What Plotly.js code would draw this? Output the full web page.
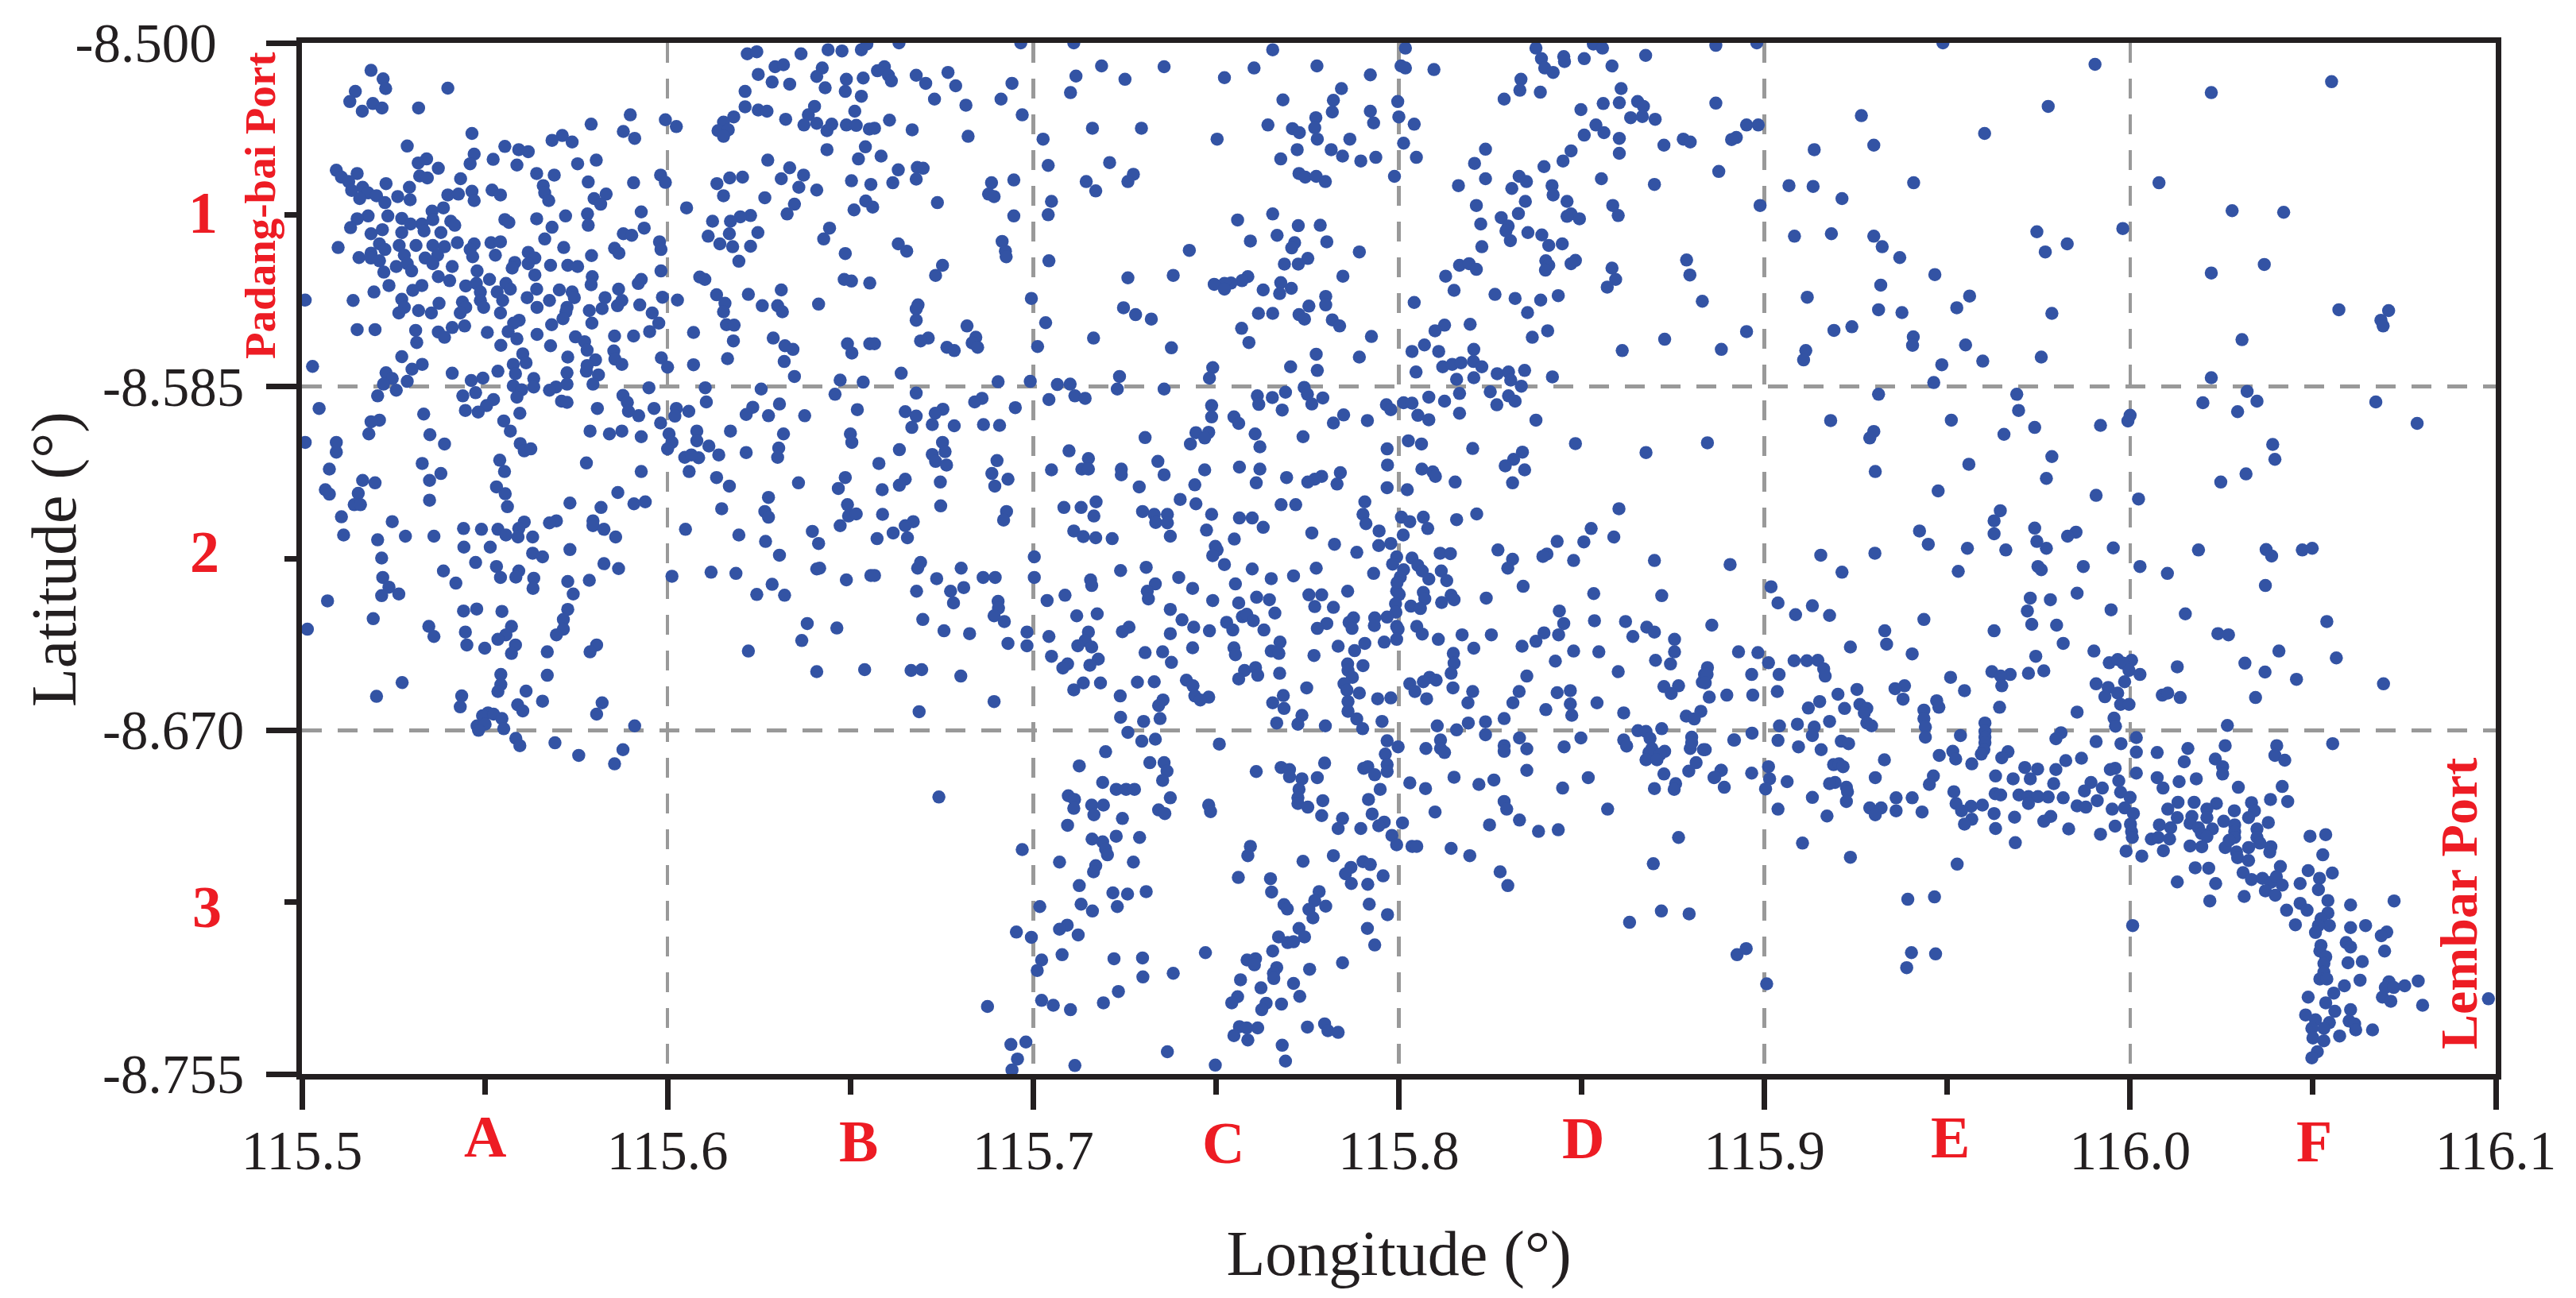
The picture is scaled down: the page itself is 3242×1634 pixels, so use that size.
<!DOCTYPE html>
<html><head><meta charset="utf-8">
<script src="https://cdn.plot.ly/plotly-3.0.1.min.js"></script>
<style>html,body{margin:0;padding:0;background:#fff}</style></head>
<body><div id="chart" style="width:3242px;height:1634px"></div>
<script>
// Ship positions. Each pair is [east of 115.5, south of -8.5] in units of 0.0001 degree.
const westNorth=[[189,68],[222,89],[229,113],[146,120],[399,112],[131,145],[165,169],[194,150],[219,161],[319,161],[898,178],[791,201],[879,219],[910,236],[994,190],[1024,207],[465,224],[712,229],[684,241],[739,245],[288,255],[555,256],[593,264],[619,269],[471,275],[523,288],[460,299],[341,287],[318,297],[373,310],[588,302],[754,299],[805,290],[94,315],[108,332],[151,323],[128,343],[322,329],[343,334],[434,336],[642,323],[690,327],[981,327],[994,345],[907,346],[783,344],[230,348],[294,357],[660,353],[166,357],[136,365],[181,371],[204,378],[158,385],[227,395],[262,380],[296,388],[399,376],[428,374],[465,367],[471,390],[520,364],[543,376],[664,371],[675,390],[832,374],[799,385],[817,399],[1052,408],[387,408],[356,416],[928,418],[781,423],[721,428],[642,435],[555,437],[566,444],[235,428],[181,428],[151,435],[273,434],[328,448],[358,437],[407,441],[297,448],[133,457],[418,451],[220,462],[189,472],[273,469],[334,465],[380,469],[783,451],[684,456],[936,458],[879,472],[902,476],[664,485],[978,492],[212,497],[266,501],[312,501],[358,501],[425,494],[471,497],[517,494],[543,492],[99,506],[716,506],[855,508],[982,511],[189,520],[227,511],[390,504],[460,511],[619,518],[867,520],[156,531],[280,525],[371,525],[467,529],[529,525],[792,526],[189,532],[212,539],[337,532],[637,532],[258,553],[288,546],[358,546],[411,553],[582,543],[619,546],[575,557],[680,550],[727,550],[754,553],[224,567],[300,564],[479,564],[982,564],[1088,579],[1102,585],[373,578],[404,588],[513,585],[637,574],[794,578],[928,585],[920,595],[791,598],[238,600],[328,600],[448,601],[477,595],[558,595],[642,609],[570,609],[704,611],[866,609],[197,616],[303,612],[488,616],[534,616],[739,616],[1134,623],[140,637],[9,636],[273,634],[439,641],[488,637],[549,637],[616,630],[677,637],[745,630],[829,630],[875,637],[986,629],[1027,636],[1157,644],[280,654],[375,644],[448,654],[497,654],[643,654],[725,654],[786,662],[821,657],[863,650],[924,648],[319,662],[354,668],[265,668],[433,668],[543,668],[722,665],[1153,665],[958,668],[714,682],[793,693],[976,693],[594,686],[579,693],[683,697],[1161,697],[1182,698],[151,709],[200,709],[311,711],[411,704],[445,700],[373,715],[507,716],[564,714],[951,714],[1071,716],[643,721],[390,728],[588,732],[748,727],[855,725],[907,725],[1289,730],[1180,737],[314,741],[773,739],[544,748],[680,749],[1321,749],[1343,758],[780,760],[853,762],[1492,744],[1504,767],[1553,744],[604,769],[273,776],[727,777],[983,779],[856,782],[1164,781],[803,784],[1319,788],[875,795],[329,795],[29,800],[578,795],[613,791],[780,798],[1071,796],[1000,802],[301,807],[230,816],[411,817],[536,812],[725,816],[584,818],[811,821],[1347,825],[778,812],[247,830],[288,837],[495,829],[463,835],[634,830],[1472,834],[1535,839],[223,844],[578,848],[725,844],[796,844],[634,851],[695,851],[677,859],[949,853],[1103,853],[1256,856],[258,859],[601,858],[475,865],[207,873],[440,873],[588,876],[878,872],[1458,869],[524,882],[710,886],[725,889],[890,889],[1106,888],[1306,893],[47,904],[505,897],[447,909],[482,913],[596,916],[808,904],[893,911],[963,904],[1024,904],[1058,911],[1233,901],[1519,907],[333,918],[921,922],[1215,919],[1276,922],[1375,922],[1020,923],[212,933],[189,937],[552,935],[981,940]];
const westNorthEast=[[1218,27],[1244,22],[1365,27],[1439,17],[1477,20],[1530,17],[1545,3],[1294,59],[1317,54],[1248,78],[1286,97],[1334,102],[1423,62],[1408,83],[1431,111],[1489,90],[1486,120],[1535,87],[1530,132],[1212,120],[1212,158],[1248,166],[1272,169],[1323,189],[1402,157],[1512,169],[1385,178],[1181,183],[1153,196],[1138,217],[1166,215],[1153,231],[1373,203],[1408,199],[1436,217],[1449,201],[1489,203],[1516,204],[1552,213],[1436,264],[1541,257],[1522,287],[1274,290],[1334,309],[1372,327],[1311,336],[1359,357],[1408,364],[1503,341],[1556,350],[1170,334],[1205,332],[1135,348],[1153,378],[1266,383],[1347,399],[1327,423],[1542,391],[1561,406],[1510,413],[1227,427],[1199,430],[1123,441],[1172,441],[1169,472],[1247,469],[1111,478],[1443,458],[1427,485],[1143,497],[1178,504],[1227,503],[1486,521],[1195,540],[1483,585],[1503,589],[1553,594],[1311,611],[1221,622],[1413,646],[1259,650],[1301,650],[1314,665]];
const westMiddle=[[183,967],[350,969],[570,960],[788,960],[841,967],[875,960],[928,974],[1172,960],[1317,967],[1500,967],[1504,988],[1004,967],[1080,960],[9,988],[94,988],[94,1012],[390,992],[597,991],[608,1009],[626,1004],[1012,988],[1000,1004],[1080,984],[1113,997],[1085,1026],[1047,1025],[1065,1019],[1140,1019],[1215,1013],[1304,1002],[1301,1025],[541,1032],[778,1039],[329,1040],[554,1060],[928,1060],[1059,1060],[75,1054],[380,1065],[1134,1075],[1486,1075],[166,1082],[200,1088],[349,1082],[1358,1088],[532,1098],[1169,1096],[1467,1102],[64,1105],[75,1116],[154,1114],[556,1115],[864,1112],[1276,1124],[349,1131],[143,1142],[160,1142],[733,1138],[939,1135],[908,1140],[562,1147],[818,1149],[1148,1152],[1492,1142],[1266,1159],[1276,1173],[1495,1170],[1516,1165],[108,1172],[247,1184],[796,1182],[796,1194],[608,1185],[593,1201],[696,1182],[677,1187],[442,1201],[491,1203],[536,1203],[558,1217],[826,1203],[1049,1203],[1472,1194],[1396,1208],[114,1217],[283,1220],[361,1220],[591,1222],[631,1222],[858,1222],[1195,1217],[207,1229],[1268,1233],[1413,1238],[443,1247],[515,1247],[733,1253],[631,1262],[658,1271],[218,1274],[1306,1267],[475,1285],[826,1288],[532,1295],[866,1300],[593,1306],[387,1306],[1408,1301],[1416,1299],[1119,1309],[1187,1312],[543,1322],[634,1324],[585,1321],[1012,1319],[221,1322],[1489,1328],[1556,1317],[727,1332],[786,1329],[421,1336],[1286,1339],[238,1346],[632,1349],[265,1363],[742,1363],[218,1367],[1244,1364],[1320,1366],[70,1380],[727,1401],[442,1405],[478,1400],[547,1406],[195,1424],[715,1426],[1382,1436],[573,1443],[347,1443],[1463,1447],[715,1450],[15,1450],[447,1457],[361,1468],[558,1464],[696,1464],[536,1475],[1367,1478],[584,1489],[451,1489],[500,1497],[806,1489],[788,1506],[1221,1504],[671,1506],[573,1510],[1408,1555],[1539,1550],[671,1564],[544,1562],[274,1582],[544,1587],[536,1604],[613,1603],[204,1616],[437,1615],[658,1628],[821,1632],[433,1642],[590,1637],[604,1652],[806,1660],[509,1657],[494,1664],[524,1660],[547,1671],[479,1689],[501,1685],[910,1689],[552,1696],[483,1700],[585,1720],[596,1738],[692,1731],[878,1748],[757,1762],[855,1783]];
const centerNorth=[[1633,0],[1966,0],[2111,0],[2655,17],[3018,13],[3375,13],[3532,3],[3557,13],[3867,6],[1593,59],[1574,69],[1604,80],[1612,94],[1680,80],[1706,100],[1767,73],[1788,106],[1942,100],[1730,139],[1816,154],[1912,139],[1970,178],[2117,82],[2187,57],[2251,90],[2358,59],[2102,123],[2523,86],[2604,62],[2776,57],[2922,79],[3006,57],[3018,62],[3096,66],[2843,113],[2683,141],[2821,142],[2997,145],[3390,39],[3399,62],[3422,73],[3451,34],[3453,46],[3507,39],[3583,57],[3675,31],[3334,90],[3331,117],[3387,122],[3288,139],[3608,113],[3559,150],[3603,148],[3653,145],[3669,157],[3498,165],[3867,149],[2818,171],[2922,169],[2773,185],[3000,183],[3634,185],[3666,182],[3701,189],[1607,191],[2642,203],[3042,201],[2931,198],[3539,203],[3951,203],[1669,215],[2162,211],[2296,211],[2770,210],[2709,212],[2728,222],[3561,222],[3507,228],[1566,211],[1822,231],[2027,238],[2503,238],[2777,238],[2866,238],[3603,236],[3013,248],[3923,234],[3910,239],[3725,253],[3778,238],[3797,245],[2722,264],[2815,264],[3237,263],[3471,267],[2846,280],[2937,283],[3048,283],[3603,273],[2896,292],[2677,287],[3449,292],[1584,280],[2041,303],[2209,296],[1631,314],[1683,308],[1699,310],[3207,298],[3397,306],[2727,323],[2744,332],[2774,330],[2799,343],[2988,330],[3875,318],[1680,337],[1616,346],[1947,339],[1886,346],[2274,325],[2259,343],[2145,343],[3329,330],[3349,343],[3237,336],[3554,336],[3163,353],[3309,360],[3419,353],[3699,350],[2171,366],[1878,374],[1893,380],[3422,376],[3460,392],[2050,392],[1738,395],[3346,392],[3212,402],[3585,402],[2655,423],[1947,428],[2041,425],[2559,438],[3327,422],[3280,432],[3471,423],[3460,429],[3494,435],[3600,427],[2725,452],[2785,451],[3224,448],[3299,453],[3293,465],[3353,469],[2667,476],[3391,475],[1631,497],[1915,491],[2594,490],[2803,492],[2715,494],[3305,489],[3410,501],[3447,497],[3227,504],[1654,515],[1924,515],[2427,513],[2892,517],[2707,507],[1926,529],[2043,539],[2751,533],[1752,550],[2687,547],[2725,547],[3166,550],[3192,546],[3212,560],[3402,539],[3410,550],[3401,562],[3483,538],[3471,546],[3583,557],[3787,537],[3796,574],[1733,575],[2259,581],[2383,575],[2847,577],[3128,577],[2587,578],[2571,588],[2541,594],[2523,595],[2495,597],[2523,609],[2677,593],[2706,607],[2629,611],[2674,620],[3593,585],[3570,604],[3151,612],[1995,632],[2800,627],[2800,648],[3042,642],[3263,622],[3318,632],[3388,636],[3436,625],[3830,639],[1685,648],[1680,658],[2247,655],[2754,651],[2280,672],[2323,683],[2616,669],[2655,669],[2727,672],[3352,667],[1680,686],[2818,685],[2742,683],[2034,692],[1819,700],[3125,698],[3195,696],[2838,700],[2570,706],[3099,712],[3407,712],[3951,714],[1713,730],[1843,728],[2165,730],[2925,726],[3365,728],[3727,733],[1692,737],[1833,742],[2590,741],[3070,747],[1566,744],[1764,753],[1784,761],[1848,753],[2012,751],[2378,754],[3205,758],[3611,761],[3882,758],[3036,763],[3109,763],[2774,770],[2892,777],[2491,803],[2704,801],[3120,801],[3146,795],[3170,791],[3204,788],[3227,801],[1639,817],[2777,810],[3047,814],[3269,818],[3300,814],[3344,810],[2236,825],[2482,829],[3158,832],[3205,828],[3420,826],[3306,834],[1904,838],[1992,837],[2066,845],[2101,844],[2741,852],[3335,849],[2230,856],[2358,856],[1680,866],[2690,864],[2750,869],[3166,867],[3250,863],[2114,873],[2613,873],[2654,877],[2792,878],[3082,876],[3300,873],[1860,879],[1840,888],[2043,882],[2142,879],[3125,886],[3318,886],[2617,894],[2762,893],[2488,897],[3013,890],[3036,891],[2966,895],[3268,895],[1753,906],[1951,902],[1650,912],[2978,907],[2681,908],[1732,916],[2488,925],[2549,925],[2849,920],[3052,921],[3166,916],[1680,923],[2914,934],[3082,932],[3375,933],[2562,941],[1724,944],[1784,947],[1864,944],[1908,946],[1668,951],[2821,940]];
const centerMiddleA=[[2306,976],[2445,964],[2480,963],[2469,977],[2430,992],[2607,967],[2738,974],[1752,988],[1634,1006],[1759,1011],[1724,1018],[1733,1035],[1763,1044],[1578,1040],[2098,1009],[2151,1028],[2620,999],[3026,984],[3062,992],[2968,1004],[3202,1003],[3483,991],[3844,989],[3676,1013],[3338,1012],[3314,1030],[3291,1046],[3344,1056],[1901,1033],[2341,1035],[2969,1044],[2133,1054],[2151,1054],[2241,1054],[2241,1068],[2050,1056],[1887,1065],[2564,1049],[2620,1054],[2469,1056],[2358,1068],[3063,1054],[3093,1061],[3100,1072],[2840,1063],[1650,1079],[1931,1079],[2693,1075],[2789,1072],[2770,1079],[2751,1086],[2610,1088],[1746,1086],[2442,1093],[2831,1091],[3154,1086],[3311,1088],[1634,1094],[1895,1096],[2290,1098],[2968,1100],[3023,1105],[1587,1105],[2402,1129],[2907,1135],[2445,1140],[2172,1135],[1747,1145],[2678,1142],[2718,1142],[2084,1149],[2131,1149],[3602,1152],[1927,1159],[2299,1159],[2331,1166],[2488,1166],[2367,1166],[3213,1165],[2902,1166],[1588,1166],[2166,1170],[3007,1173],[3067,1173],[2564,1175],[2599,1175],[1919,1180],[3030,1184],[3158,1179],[2335,1186],[2367,1187],[1672,1184],[2910,1189],[1650,1194],[3079,1201],[2629,1198],[3526,1201],[2111,1207],[2474,1205],[2946,1207],[1617,1212],[2762,1212],[3588,1222],[2137,1221],[2171,1224],[2216,1226],[2375,1220],[3012,1217],[1656,1224],[1573,1226],[2550,1227],[3506,1234],[3433,1233],[2978,1238],[2824,1240],[2945,1243],[2498,1245],[3271,1254],[2885,1260],[3113,1262],[3141,1263],[2503,1254],[2491,1268],[3405,1264],[3394,1270],[2003,1271],[2994,1271],[3036,1274],[3311,1277],[3478,1280],[3699,1280],[2523,1290],[2983,1289],[1692,1285],[3906,1290],[3298,1299],[1684,1299],[2309,1297],[3052,1292],[2774,1299],[2599,1301],[3013,1303],[1803,1299],[2239,1305],[3064,1306],[3116,1306],[2931,1312],[1566,1317],[2712,1318],[1863,1322],[1896,1322],[2003,1322],[2651,1325],[1736,1325],[2398,1322],[2157,1328],[3004,1321],[3082,1326],[3131,1330],[2334,1338],[2553,1338],[2160,1342],[3340,1344],[2995,1335],[1810,1347],[2436,1349],[2860,1356],[1681,1356],[1774,1356],[2312,1356],[2994,1356],[3067,1359],[3533,1362],[3719,1367],[2754,1365],[2789,1365],[3143,1366],[2087,1366],[2611,1371],[3239,1373],[2646,1377],[2315,1375],[2038,1379],[2491,1379],[3001,1364],[3071,1375],[3151,1377],[1904,1381],[2562,1385],[3117,1384],[2991,1387],[1782,1385],[2770,1394],[2821,1396],[3033,1393],[3059,1399],[1905,1398],[2375,1401],[3439,1405],[2661,1410],[2175,1412],[2992,1408],[2119,1417],[1893,1417],[2572,1419],[2584,1413],[2876,1422],[2934,1422],[2968,1420],[2407,1427],[2602,1429],[1921,1431],[1698,1426],[3535,1429],[3620,1431],[2864,1433],[2529,1433],[2439,1445],[2803,1436],[3451,1436],[2933,1441],[2994,1443],[3856,1440],[3678,1445],[3049,1443],[2262,1445],[2777,1448],[2872,1448],[2482,1454],[2546,1452],[2631,1452],[1756,1454],[2998,1450]];
const centerMiddleB=[[1983,1457],[2151,1457],[2244,1456],[1826,1461],[2375,1461],[3397,1459],[3699,1457],[3064,1462],[3253,1464],[3173,1464],[3437,1464],[3640,1468],[2043,1468],[3754,1475],[3108,1475],[2994,1475],[2907,1485],[2960,1482],[2675,1482],[3375,1480],[1931,1485],[1983,1491],[2142,1478],[2122,1491],[2160,1494],[2436,1496],[2549,1496],[2834,1492],[3337,1492],[3205,1497],[3149,1510],[3478,1504],[3547,1506],[3754,1506],[3929,1506],[2306,1508],[2354,1506],[2651,1504],[2672,1510],[2879,1503],[2768,1515],[2553,1513],[2050,1517],[2178,1524],[3428,1529],[2378,1532],[3702,1527],[3743,1536],[3151,1534],[2860,1536],[2902,1540],[2094,1536],[2155,1539],[2081,1546],[3844,1545],[2578,1552],[2608,1545],[2861,1552],[1666,1552],[1695,1550],[3600,1555],[2614,1564],[2674,1559],[1802,1566],[3143,1559],[3836,1562],[3350,1566],[2873,1569],[3084,1569],[3102,1576],[2562,1573],[2419,1576],[2285,1581],[2331,1580],[2137,1583],[2184,1583],[2437,1590],[2850,1585],[3067,1580],[3030,1585],[3830,1581],[2748,1595],[3725,1592],[3765,1590],[2111,1600],[3148,1595],[3044,1604],[3202,1604],[2858,1601],[2892,1608],[3329,1604],[3433,1607],[3469,1602],[3745,1609],[2238,1615],[2684,1614],[2442,1615],[2480,1618],[2457,1625],[2355,1625],[3897,1613],[3076,1622],[2942,1622],[2978,1620],[3849,1618],[2861,1629],[3542,1632],[2655,1632],[3189,1632],[3312,1632],[2343,1639],[3469,1635],[1688,1654],[1893,1629],[2686,1646],[2861,1653],[3402,1649],[2735,1663],[3615,1657],[3473,1663],[3826,1653],[2239,1668],[2347,1671],[2885,1672],[3786,1665],[3808,1672],[2954,1678],[3288,1671],[2302,1678],[2666,1682],[3105,1689],[2724,1685],[3190,1682],[3237,1679],[2799,1689],[2901,1696],[3158,1699],[2259,1705],[3719,1696],[3654,1701],[3676,1703],[3237,1711],[2297,1727],[2334,1722],[2509,1734],[2968,1726],[3114,1724],[3498,1719],[3330,1719],[3615,1724],[3687,1720],[3801,1717],[3916,1724],[2998,1741],[3452,1741],[3623,1739],[3288,1738],[3074,1745],[3350,1746],[3114,1745],[3797,1745],[3833,1748],[2198,1753],[3288,1752],[3125,1755],[3727,1752],[3692,1745],[3684,1755],[3715,1759],[3676,1773],[3706,1773],[3801,1731],[2963,1759],[3813,1780],[2126,1788],[2319,1780],[2358,1780],[2797,1781],[2968,1785],[2678,1792],[2904,1794],[2915,1790],[2366,1801],[2610,1802],[2701,1797],[3350,1799],[2934,1810],[3882,1799],[3793,1801],[2968,1802],[3725,1808],[2777,1817],[2701,1815],[2735,1820],[3151,1816],[3518,1817],[3260,1823],[2354,1824],[3862,1817],[2190,1829],[3030,1830],[3219,1834],[3757,1832],[3448,1843],[2227,1846],[2254,1846],[2277,1846],[2727,1846],[3073,1844],[2949,1846],[3699,1844],[3753,1846],[3890,1841],[1742,1865],[2096,1862],[2724,1867],[2375,1867],[2113,1871],[2792,1874],[2917,1871],[3288,1876],[2160,1885],[2724,1881],[2192,1885],[2480,1885],[2751,1890],[3295,1895],[3571,1895],[2111,1893],[2343,1897],[2360,1906],[2485,1901],[3099,1902],[2166,1909],[2927,1907],[2789,1911],[3330,1922],[2846,1918],[2244,1918],[2960,1927],[3010,1929],[2094,1935],[2945,1936],[3248,1934],[3382,1950],[3436,1946],[2834,1943],[2896,1943],[3765,1965],[2227,1962],[2981,1960],[2161,1969],[2291,1965],[2190,1976],[2994,1983],[3036,1987],[3049,1987],[2594,1987],[3143,1992],[1970,1995],[2198,1994],[3194,2010],[2587,2010],[2821,2010],[2203,2008],[2738,2024],[2902,2025],[2072,2026],[2274,2026],[3696,2030],[2922,2032],[2171,2035],[2869,2039],[2165,2050],[3277,2050]];
const centerSouth=[[2561,2064],[2649,2067],[2126,2084],[2652,2100],[2870,2079],[2915,2081],[2957,2060],[2854,2055],[2218,2102],[2258,2105],[2309,2099],[2782,2099],[3298,2084],[3631,2175],[3718,2147],[3794,2154],[2770,2121],[2919,2130],[2131,2130],[2018,2136],[2230,2136],[2800,2135],[2686,2131],[2695,2142],[2162,2147],[2754,2143],[2969,2156],[2765,2164],[2093,2182],[2072,2192],[1954,2199],[1995,2212],[2123,2206],[2727,2190],[2914,2190],[2671,2211],[2742,2211],[2696,2225],[2712,2223],[2934,2231],[2471,2250],[2655,2246],[2079,2255],[2221,2265],[2299,2263],[2023,2268],[2585,2268],[2608,2265],[2605,2280],[2846,2275],[2666,2287],[2756,2291],[2011,2294],[2383,2301],[2657,2301],[2658,2314],[2300,2310],[2567,2317],[2712,2326],[2623,2337],[2233,2346],[2559,2359],[2729,2358],[2023,2368],[2543,2374],[2637,2375],[2679,2377],[2055,2380],[2192,2374],[1875,2383],[2102,2391],[2625,2391],[2564,2433],[2584,2436],[2614,2436],[2750,2434],[2797,2426],[2806,2443],[2834,2447],[2549,2455],[2587,2466],[1939,2477],[1980,2471],[2681,2479],[2367,2495],[1957,2513],[2690,2518],[2498,2528],[2114,2529],[1942,2540]];
const eastNorth=[[3979,0],[4488,0],[4904,53],[5551,96],[5222,123],[4776,157],[4265,180],[3983,203],[4602,224],[4299,253],[4136,264],[4408,346],[4067,353],[4133,355],[5079,346],[4212,385],[3988,402],[5279,415],[5420,419],[4980,459],[4745,467],[4082,478],[4183,472],[4299,478],[4322,504],[4828,497],[4768,517],[4370,531],[5367,548],[5222,569],[4466,573],[4318,599],[4117,629],[4561,626],[4526,655],[4312,660],[4376,667],[4786,669],[5571,660],[5707,662],[5686,686],[5692,700],[4239,702],[4190,711],[4407,727],[5306,734],[4405,748],[4550,747],[4113,761],[4107,784],[4597,787],[4757,777],[4485,796],[5222,828],[4463,840],[4312,869],[4690,869],[5320,862],[5347,886],[5199,890],[5672,888],[4695,909],[5294,912],[5000,921],[4994,935],[4181,934],[4511,933],[5785,941],[4919,946],[4739,951],[4299,961],[4288,977],[4655,968],[5390,993]];
const eastMiddleA=[[5396,1030],[4786,1023],[4559,1042],[4303,1060],[5317,1066],[4771,1077],[5248,1086],[4475,1108],[4907,1119],[5023,1128],[4645,1157],[4628,1182],[4628,1214],[4739,1200],[4852,1210],[4829,1220],[4424,1207],[4448,1240],[4745,1233],[4771,1250],[4660,1254],[4555,1250],[4954,1249],[5187,1254],[5372,1253],[5387,1269],[5471,1254],[5498,1250],[4154,1267],[4302,1262],[4212,1309],[4530,1307],[4748,1295],[4757,1303],[4872,1295],[5027,1295],[5102,1312],[5370,1342],[4018,1345],[4037,1385],[4131,1392],[4085,1414],[4178,1416],[4436,1426],[4727,1373],[4782,1377],[4855,1361],[4719,1405],[4948,1402],[5151,1412],[4731,1438],[4799,1440],[5538,1431],[4329,1454],[4628,1454],[5240,1461],[5269,1464],[4334,1487],[4235,1494],[4817,1485],[4404,1511],[4901,1504],[5407,1504],[3982,1508],[4742,1517],[4011,1533],[4081,1528],[4116,1528],[4146,1527],[5564,1521],[5314,1534],[4943,1533],[4966,1525],[5004,1527],[4981,1534],[5129,1543],[4764,1553],[4997,1552],[5369,1556],[4162,1548],[4166,1566],[3965,1562],[4040,1562],[4622,1555],[4672,1562],[4722,1559],[4646,1566],[4509,1569],[5027,1562],[3843,1562],[5455,1574],[5693,1585],[4649,1590],[4907,1585],[4985,1580],[3838,1583],[4253,1599],[4383,1590],[4357,1597],[4547,1602],[4940,1594],[4035,1604],[4966,1608],[4931,1617],[5088,1613],[5103,1608],[5137,1619],[5343,1619],[3968,1613],[4201,1611],[4379,1623],[4151,1629],[4471,1627],[4477,1643],[4643,1643],[4120,1645],[4219,1646],[4261,1636],[4280,1646],[4273,1657],[4436,1650],[4436,1671],[4974,1636],[4997,1636],[4855,1655],[4956,1670],[4178,1678],[4603,1682],[4041,1689],[4090,1685],[4280,1682],[4293,1689],[4136,1692],[5266,1688],[4960,1690],[4440,1692],[4811,1706],[4603,1703],[3966,1707],[4131,1713],[4440,1717],[4603,1717],[4536,1713],[4797,1721],[3918,1724],[4037,1725],[4210,1727],[4230,1733],[5017,1718],[4603,1731],[4907,1728],[4975,1733],[5554,1733],[5401,1738],[5260,1738],[5158,1745],[4093,1741],[3838,1748],[4155,1748],[4600,1748],[4666,1753],[4515,1752],[5017,1754],[5074,1755],[4478,1762],[4593,1759],[4523,1771],[4649,1768],[4867,1769],[5396,1762],[5233,1771],[5148,1778],[5423,1774],[4328,1773],[4824,1775],[4567,1783]];
const eastMiddleB=[[4189,1785],[4204,1783],[4215,1790],[4011,1790],[4712,1792],[4747,1796],[4797,1797],[4959,1794],[4946,1797],[5253,1790],[5253,1808],[3881,1799],[3965,1806],[5017,1806],[4462,1813],[4632,1813],[3864,1816],[4303,1817],[5074,1817],[4014,1820],[4680,1820],[4727,1820],[5181,1820],[5134,1827],[4062,1827],[4193,1829],[4178,1832],[4451,1834],[4791,1832],[4969,1825],[4893,1829],[4224,1841],[4924,1843],[5296,1841],[5416,1839],[4003,1845],[5090,1843],[4875,1850],[4974,1853],[4227,1852],[4518,1852],[4631,1857],[4696,1860],[4722,1864],[4748,1864],[4776,1865],[4646,1860],[4131,1866],[4360,1867],[4404,1867],[4817,1867],[5000,1866],[5384,1871],[5431,1876],[4910,1874],[5131,1878],[5175,1878],[5236,1881],[5332,1879],[4224,1876],[4722,1881],[4524,1881],[4565,1888],[4596,1885],[4855,1887],[4879,1890],[4985,1892],[4951,1895],[5103,1895],[5210,1895],[4288,1892],[4319,1892],[4360,1899],[4539,1899],[4037,1895],[5285,1899],[5340,1899],[4303,1909],[4431,1902],[4628,1906],[5009,1906],[5129,1916],[5169,1913],[5210,1916],[4171,1912],[4684,1915],[4783,1913],[5324,1916],[5256,1925],[4764,1925],[4567,1920],[5378,1928],[5164,1930],[5286,1934],[5001,1932],[4547,1932],[5080,1934],[4959,1937],[5111,1941],[5187,1941],[5225,1944],[5347,1944],[4632,1943],[4832,1944],[5286,1951],[5004,1951],[4919,1957],[5058,1969],[5077,1965],[5108,1969],[5195,1955],[5210,1963],[5286,1965],[5347,1965],[5006,1965],[4104,1979],[4686,1978],[5355,1979],[5164,1986],[5196,1988],[5260,1990],[5271,1972],[5385,1988],[5291,2001],[5324,1990],[5382,2001],[4989,1999],[5091,1998],[5032,2011],[4235,2014],[5294,2015],[5324,2022],[5492,1962],[5535,1958],[5527,2008]];
const eastSouth=[[4527,2031],[5129,2075],[5178,2040],[5215,2041],[5234,2079],[5218,2122],[5309,2052],[5332,2069],[5362,2066],[5385,2076],[5411,2037],[5400,2062],[5416,2083],[5370,2097],[5397,2108],[5312,2111],[5487,2047],[5465,2079],[5518,2066],[5553,2053],[5515,2094],[5465,2128],[5428,2145],[5484,2145],[5541,2121],[5603,2132],[5722,2122],[5541,2152],[5522,2166],[5545,2183],[5515,2183],[5507,2200],[5452,2181],[5603,2188],[5644,2183],[5007,2183],[5702,2199],[5687,2208],[5591,2225],[5603,2236],[5519,2246],[5522,2232],[5696,2246],[5535,2260],[5530,2277],[5596,2275],[5635,2272],[5530,2298],[5519,2315],[5538,2315],[5629,2318],[5586,2332],[5708,2322],[5698,2336],[5721,2336],[5751,2332],[5788,2320],[5557,2350],[5487,2360],[5690,2360],[5713,2370],[5980,2364],[5800,2380],[5535,2374],[5560,2395],[5603,2391],[5480,2404],[5507,2416],[5545,2423],[5599,2419],[5614,2426],[5497,2437],[5530,2437],[5617,2441],[5663,2441],[5573,2456],[5500,2461],[5530,2468],[5512,2495],[5497,2510],[4392,2118],[4465,2112],[3925,2255],[3950,2240],[4402,2250],[4468,2253],[4389,2287],[4006,2327]];

const xTicks=[115.5,115.6,115.7,115.8,115.9,116.0,116.1];
const xMinorTicks=[115.55,115.65,115.75,115.85,115.95,116.05];
const yTicks=[-8.5,-8.585,-8.67,-8.755];
const yMinorTicks=[-8.5425,-8.6275,-8.7125];
const yTickText=['-8.500\u00A0\u00A0','-8.585','-8.670','-8.755'];
const columnLabels=['A','B','C','D','E','F'];
const rowLabels=['1','2','3'];

const allPairs=[].concat(westNorth,westNorthEast,westMiddle,centerNorth,centerMiddleA,centerMiddleB,centerSouth,eastNorth,eastMiddleA,eastMiddleB,eastSouth);
const lon=allPairs.map(p=>115.5+p[0]/10000);
const lat=allPairs.map(p=>-8.5-p[1]/10000);

const W=3242,H=1634,L=380,R=3141,T=54,B=1352;
const ink='#231F20',red='#ED1C24',serif='"Liberation Serif","Times New Roman",serif';
const px=x=>(x-L)/(R-L), py=y=>1-(y-T)/(B-T);
const note=(text,x,y,size,extra)=>Object.assign({text,xref:'paper',yref:'paper',x:px(x),y:py(y),showarrow:false,xanchor:'center',yanchor:'middle',font:{family:serif,size,color:red}},extra||{});
const columnX=[610,1080,1539,1992,2454,2912], columnY=[1431,1437,1439,1433,1432,1437];
const rowX=[255,257,260], rowY=[268,695,1142];
const annotations=[
 ...columnLabels.map((t,i)=>note('<b>'+t+'</b>',columnX[i],columnY[i],74)),
 ...rowLabels.map((t,i)=>note('<b>'+t+'</b>',rowX[i],rowY[i],74)),
 note('<b>Padang-bai Port</b>',328,259,55,{textangle:-90}),
 note('<b>Lembar Port</b>',3094,1138,66,{textangle:-90}),
 note('Latitude (°)',68,704,80,{textangle:-90,font:{family:serif,size:80,color:ink}})
];
const axisBase={showline:true,mirror:true,linecolor:ink,linewidth:7,zeroline:false,layer:'above traces',
 ticks:'outside',ticklen:38,tickwidth:7,tickcolor:ink,showgrid:true,gridcolor:'#999999',griddash:'25px,20px',gridwidth:4.5,
 tickfont:{family:serif,size:69,color:ink},tickmode:'array'};
Plotly.newPlot('chart',[{type:'scatter',mode:'markers',x:lon,y:lat,cliponaxis:true,hoverinfo:'skip',
 marker:{size:16.5,color:'#3353A4',line:{width:0}}}],{
 width:W,height:H,margin:{l:L,r:W-R,t:T,b:H-B,pad:0},paper_bgcolor:'#fff',plot_bgcolor:'#fff',showlegend:false,
 xaxis:Object.assign({},axisBase,{range:[115.5,116.1],tickvals:xTicks,ticktext:xTicks.map(v=>v.toFixed(1)),
  minor:{tickmode:'array',tickvals:xMinorTicks,ticks:'outside',ticklen:19,tickwidth:7,tickcolor:ink,showgrid:false},
  ticklabelstandoff:-8,title:{text:'Longitude (°)',font:{family:serif,size:80,color:ink},standoff:66}}),
 yaxis:Object.assign({},axisBase,{range:[-8.755,-8.5],tickvals:yTicks,ticktext:yTickText,
  minor:{tickmode:'array',tickvals:yMinorTicks,ticks:'outside',ticklen:15,tickwidth:7,tickcolor:ink,showgrid:false},
  ticklabelstandoff:14}),
 annotations
},{displayModeBar:false,staticPlot:true});
</script></body></html>
